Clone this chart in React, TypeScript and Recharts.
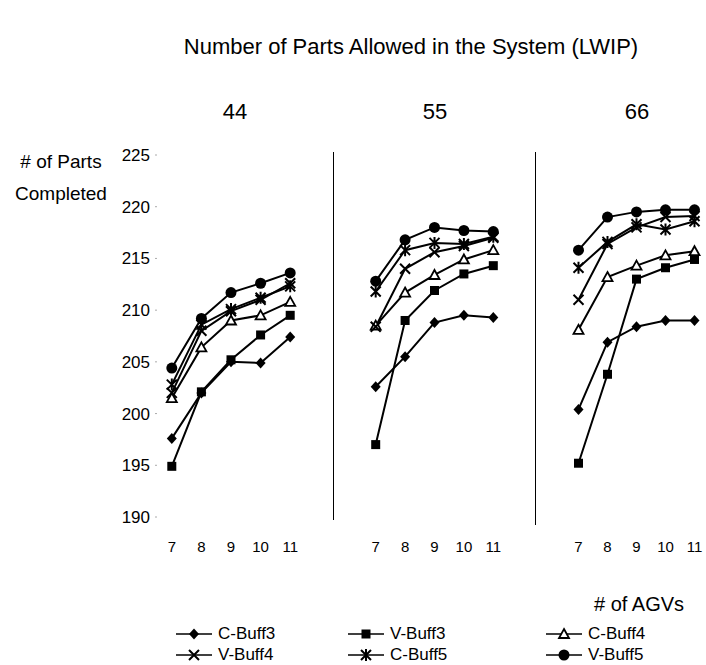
import React from 'react'
import { LineChart, Line, XAxis, YAxis } from 'recharts'

// # of AGVs on the x axis, same for every LWIP panel
const agvs = [7, 8, 9, 10, 11]
const yTicks = [190, 195, 200, 205, 210, 215, 220, 225]
const panelLabels = ['44', '55', '66']

// parts completed, one array per panel (LWIP 44 / 55 / 66)
const cBuff3 = [
  [197.6, 202.0, 205.0, 204.9, 207.4],
  [202.6, 205.5, 208.8, 209.5, 209.3],
  [200.4, 206.9, 208.4, 209.0, 209.0],
]
const vBuff3 = [
  [194.9, 202.1, 205.2, 207.6, 209.5],
  [197.0, 209.0, 211.9, 213.5, 214.3],
  [195.2, 203.8, 213.0, 214.1, 214.9],
]
const cBuff4 = [
  [201.5, 206.4, 209.0, 209.5, 210.8],
  [208.5, 211.7, 213.4, 214.9, 215.8],
  [208.1, 213.2, 214.3, 215.3, 215.7],
]
const vBuff4 = [
  [202.0, 208.0, 209.9, 211.0, 212.6],
  [208.4, 214.0, 215.6, 216.2, 217.0],
  [211.0, 216.4, 218.0, 219.0, 219.1],
]
const cBuff5 = [
  [202.8, 208.6, 210.1, 211.2, 212.3],
  [211.8, 215.8, 216.5, 216.4, 217.1],
  [214.1, 216.6, 218.3, 217.8, 218.6],
]
const vBuff5 = [
  [204.4, 209.2, 211.7, 212.6, 213.6],
  [212.8, 216.8, 218.0, 217.7, 217.6],
  [215.8, 219.0, 219.5, 219.7, 219.7],
]

const FONT = '"Liberation Sans", Arial, sans-serif'

type ShapeProps = { cx?: number; cy?: number }

const Diamond = ({ cx = 0, cy = 0 }: ShapeProps) => (
  <path d={`M${cx},${cy - 5.5} L${cx + 5},${cy} L${cx},${cy + 5.5} L${cx - 5},${cy} Z`} fill="#000" />
)
const Square = ({ cx = 0, cy = 0 }: ShapeProps) => (
  <rect x={cx - 4.5} y={cy - 4.5} width={9} height={9} fill="#000" />
)
const Triangle = ({ cx = 0, cy = 0 }: ShapeProps) => (
  <path d={`M${cx},${cy - 5} L${cx + 5},${cy + 4} L${cx - 5},${cy + 4} Z`} fill="#fff" stroke="#000" strokeWidth={1.8} />
)
const Cross = ({ cx = 0, cy = 0 }: ShapeProps) => (
  <path d={`M${cx - 5},${cy - 5} L${cx + 5},${cy + 5} M${cx - 5},${cy + 5} L${cx + 5},${cy - 5}`} stroke="#000" strokeWidth={2} />
)
const Star = ({ cx = 0, cy = 0 }: ShapeProps) => (
  <path
    d={`M${cx - 5},${cy - 5} L${cx + 5},${cy + 5} M${cx - 5},${cy + 5} L${cx + 5},${cy - 5} M${cx},${cy - 6} L${cx},${cy + 6}`}
    stroke="#000"
    strokeWidth={2}
  />
)
const Circle = ({ cx = 0, cy = 0 }: ShapeProps) => <circle cx={cx} cy={cy} r={5.5} fill="#000" />

const series = [
  { name: 'C-Buff3', values: cBuff3, Shape: Diamond },
  { name: 'V-Buff3', values: vBuff3, Shape: Square },
  { name: 'C-Buff4', values: cBuff4, Shape: Triangle },
  { name: 'V-Buff4', values: vBuff4, Shape: Cross },
  { name: 'C-Buff5', values: cBuff5, Shape: Star },
  { name: 'V-Buff5', values: vBuff5, Shape: Circle },
]

// where each panel sits on the page
const panels = [
  { left: 100, width: 210, yAxis: true },
  { left: 361, width: 152, yAxis: false },
  { left: 564, width: 150, yAxis: false },
]

function Panel({ idx }: { idx: number }) {
  const p = panels[idx]
  const data = agvs.map((a, i) => {
    const row: Record<string, number> = { agv: a }
    series.forEach((s) => (row[s.name] = s.values[idx][i]))
    return row
  })
  return (
    <div style={{ position: 'absolute', left: p.left, top: 0 }}>
      <LineChart width={p.width} height={557} data={data} margin={{ top: 155, right: 5, bottom: 0, left: 0 }}>
        <XAxis
          dataKey="agv"
          type="number"
          domain={[6.5, 11.5]}
          ticks={agvs}
          axisLine={false}
          tickLine={false}
          tickSize={0}
          tickMargin={24}
          height={40}
          tick={{ fill: '#000', fontSize: 15, fontFamily: FONT }}
        />
        <YAxis
          hide={!p.yAxis}
          width={p.yAxis ? 57 : 0}
          domain={[190, 225]}
          ticks={yTicks}
          axisLine={false}
          tickSize={2}
          tickMargin={5}
          tickLine={{ stroke: '#aaa' }}
          tick={{ fill: '#000', fontSize: 17, fontFamily: FONT }}
        />
        {series.map((s) => (
          <Line
            key={s.name}
            dataKey={s.name}
            stroke="#000"
            strokeWidth={2}
            isAnimationActive={false}
            dot={(d: any) => <s.Shape key={`${s.name}-${d.index}`} cx={d.cx} cy={d.cy} />}
            activeDot={false}
          />
        ))}
      </LineChart>
    </div>
  )
}

function LegendItem({ name, Shape, x, y }: { name: string; Shape: any; x: number; y: number }) {
  return (
    <div style={{ position: 'absolute', left: x - 22, top: y - 11, height: 22, display: 'flex', alignItems: 'center' }}>
      <svg width={40} height={20}>
        <line x1={2} y1={10} x2={38} y2={10} stroke="#000" strokeWidth={1.5} />
        <Shape cx={20} cy={10} />
      </svg>
      <span style={{ fontSize: 17, fontFamily: FONT, marginLeft: 4, lineHeight: '22px' }}>{name}</span>
    </div>
  )
}

const legendPos = [
  { x: 196, y: 634 },
  { x: 368, y: 634 },
  { x: 566, y: 634 },
  { x: 196, y: 655 },
  { x: 368, y: 655 },
  { x: 566, y: 655 },
]

export default function App() {
  return (
    <div style={{ position: 'absolute', left: 0, top: 0, width: 706, height: 665, background: '#fff', fontFamily: FONT, color: '#000' }}>
      <div style={{ position: 'absolute', left: 0, width: 706, top: 34, paddingLeft: 116, textAlign: 'center', fontSize: 22, boxSizing: 'border-box' }}>
        Number of Parts Allowed in the System (LWIP)
      </div>
      {panelLabels.map((l, i) => (
        <div key={l} style={{ position: 'absolute', left: [235, 435, 637][i] - 30, width: 60, top: 99, textAlign: 'center', fontSize: 22 }}>
          {l}
        </div>
      ))}
      <div style={{ position: 'absolute', left: 0, width: 122, top: 146, textAlign: 'center', fontSize: 19, lineHeight: '32px' }}>
        # of Parts
        <br />
        Completed
      </div>
      {panels.map((_, i) => (
        <Panel key={i} idx={i} />
      ))}
      <div style={{ position: 'absolute', left: 333, top: 152, width: 1, height: 368, background: '#000' }} />
      <div style={{ position: 'absolute', left: 535, top: 152, width: 1, height: 373, background: '#000' }} />
      <div style={{ position: 'absolute', left: 594, top: 593, fontSize: 20 }}># of AGVs</div>
      {series.map((s, i) => (
        <LegendItem key={s.name} name={s.name} Shape={s.Shape} x={legendPos[i].x} y={legendPos[i].y} />
      ))}
    </div>
  )
}
